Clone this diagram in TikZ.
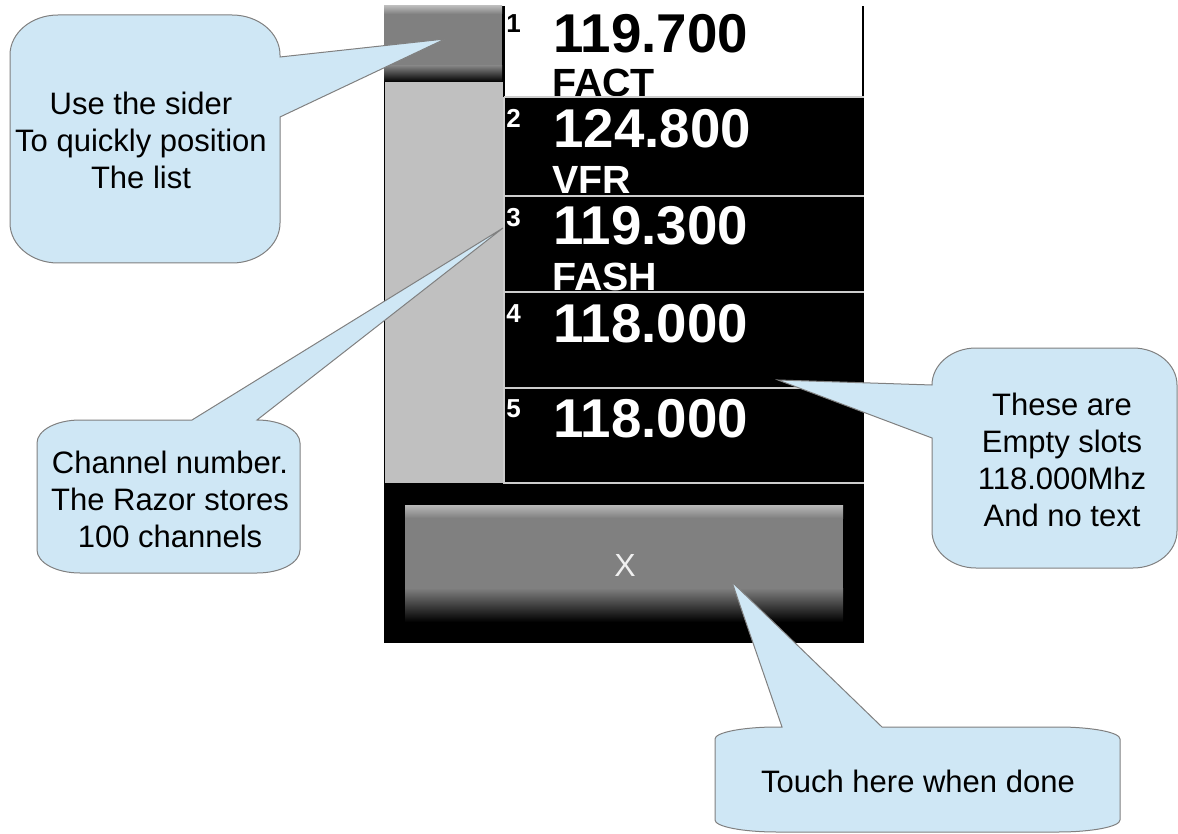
\documentclass[tikz,border=0pt]{standalone}
\usepackage{fontspec}
\setmainfont{Liberation Sans}

\definecolor{balloonfill}{RGB}{207,231,245}
\definecolor{balloonline}{RGB}{128,128,128}
\definecolor{trackgray}{RGB}{192,192,192}
\definecolor{knobgray}{RGB}{128,128,128}
\definecolor{knoblight}{RGB}{184,184,184}
\definecolor{sepgray}{RGB}{205,205,205}

\tikzset{
	balloon/.style={fill=balloonfill, draw=balloonline, line width=0.75pt},
	balloontext/.style={align=center, inner sep=0pt, font=\fontsize{23.25}{27.75}\selectfont},
	freqtext/.style={anchor=base west, inner sep=0pt, font=\bfseries\fontsize{41}{41}\selectfont},
	tagtext/.style={anchor=base west, inner sep=0pt, font=\bfseries\fontsize{29.5}{29.5}\selectfont},
	chantext/.style={anchor=base west, inner sep=0pt, font=\bfseries\fontsize{19.5}{19.5}\selectfont},
	rowline/.style={draw=sepgray, line width=1.5pt},
}

\begin{document}
\begin{tikzpicture}[x=0.75pt,y=0.75pt,yscale=-1,xscale=1]
	\useasboundingbox (0,0) rectangle (1178,834);

	% screen
	\fill [black] (384,6) rectangle (864,643);
	\fill [knobgray] (384,6) rectangle (502,82);
	\shade [top color=knoblight, bottom color=knobgray] (384,6) rectangle (502,14);
	\shade [top color=knobgray, bottom color=black] (384,66) rectangle (502,82);
	\fill [trackgray] (385,82) rectangle (503,483);
	\fill [white] (505,6) rectangle (862,97);

	\draw (506,33) node [chantext] (idx1) {1};
	\draw (553,53) node [freqtext] (freq1) {119.700};
	\draw (552,97) node [tagtext] (tag1) {FACT};
	\draw (506,128) node [chantext, white] (idx2) {2};
	\draw (553,148) node [freqtext, white] (freq2) {124.800};
	\draw (552,194) node [tagtext, white] (tag2) {VFR};
	\draw (506,227) node [chantext, white] (idx3) {3};
	\draw (553,245) node [freqtext, white] (freq3) {119.300};
	\draw (552,291) node [tagtext, white] (tag3) {FASH};
	\draw (506,322) node [chantext, white] (idx4) {4};
	\draw (553,342) node [freqtext, white] (freq4) {118.000};
	\draw (506,417) node [chantext, white] (idx5) {5};
	\draw (553,437) node [freqtext, white] (freq5) {118.000};

	\draw [rowline] (504,97) -- (864,97);
	\draw [rowline] (504,196) -- (864,196);
	\draw [rowline] (504,292) -- (864,292);
	\draw [rowline] (504,388) -- (864,388);
	\draw [rowline] (503,483) -- (864,483);
	\draw [rowline] (504,97) -- (504,483);

	% close button
	\fill [knobgray] (405,505) rectangle (843,622);
	\shade [top color=knoblight, bottom color=knobgray] (405,505) rectangle (843,518);
	\shade [top color=knobgray, bottom color=black] (405,588) rectangle (843,622);
	\draw (625,565) node [inner sep=0pt, text=white!94!black, font=\fontsize{24}{24}\selectfont] (closeLabel) {X};

	% balloons
	\coordinate (thumbTip) at (445,39);
	\coordinate (chanTip) at (503,228);
	\coordinate (slotTip) at (778,380);
	\coordinate (closeTip) at (732,582);

	\draw [balloon] (58,15) -- (232,15) arc [start angle=270, end angle=360, x radius=48, y radius=40] -- (280,57) -- (thumbTip) -- (280,117) -- (280,223) arc [start angle=0, end angle=90, x radius=48, y radius=40] -- (58,263) arc [start angle=90, end angle=180, x radius=48, y radius=40] -- (10,55) arc [start angle=180, end angle=270, x radius=48, y radius=40] -- cycle;
	\draw (141,140) node [balloontext] (sliderNote) {Use the sider\\To quickly position\\The list};

	\draw [balloon] (80,420) -- (192,420) -- (chanTip) -- (257,420) arc [start angle=270, end angle=360, x radius=43, y radius=23] -- (300,550) arc [start angle=0, end angle=90, x radius=43, y radius=23] -- (80,573) arc [start angle=90, end angle=180, x radius=43, y radius=23] -- (37,443) arc [start angle=180, end angle=270, x radius=43, y radius=23] -- cycle;
	\draw (170,499) node [balloontext] (chanNote) {Channel number.\\The Razor stores\\100 channels};

	\draw [balloon] (976,348) -- (1133,348) arc [start angle=270, end angle=360, x radius=44, y radius=37] -- (1177,531) arc [start angle=0, end angle=90, x radius=44, y radius=37] -- (976,568) arc [start angle=90, end angle=180, x radius=44, y radius=37] -- (932,438) -- (slotTip) -- (932,385) arc [start angle=180, end angle=270, x radius=44, y radius=37] -- cycle;
	\draw (1062,460) node [balloontext] (slotNote) {These are\\Empty slots\\118.000Mhz\\And no text};

	\draw [balloon] (777,727) -- (782,727) -- (closeTip) -- (882,727) -- (1058,727) arc [start angle=270, end angle=360, x radius=62, y radius=12] -- (1120,820) arc [start angle=0, end angle=90, x radius=62, y radius=12] -- (777,832) arc [start angle=90, end angle=180, x radius=62, y radius=12] -- (715,739) arc [start angle=180, end angle=270, x radius=62, y radius=12] -- cycle;
	\draw (918,781) node [balloontext] (doneNote) {Touch here when done};
\end{tikzpicture}
\end{document}
